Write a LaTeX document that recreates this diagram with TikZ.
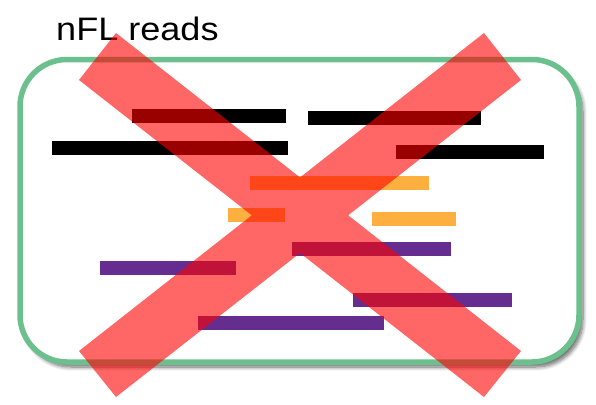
\documentclass[tikz,border=0pt]{standalone}
\usepackage{fontspec}
\setmainfont{Liberation Sans}
\usetikzlibrary{shadows.blur}
\definecolor{boxgreen}{RGB}{107,192,142}
\definecolor{readorange}{RGB}{253,176,64}
\definecolor{readpurple}{RGB}{102,45,145}
\tikzset{
  readbar/.style={line width=13.5pt},
  blackread/.style={readbar, draw=black},
  orangeread/.style={readbar, draw=readorange},
  purpleread/.style={readbar, draw=readpurple},
}
\begin{document}
\begin{tikzpicture}[x=1pt,y=-1pt]
\useasboundingbox (0,0) rectangle (596,404);
% box
\path[draw=boxgreen, line width=5.5pt, fill=white, rounded corners=47pt,
  blur shadow={shadow xshift=4pt, shadow yshift=-5pt, shadow blur steps=8, shadow opacity=60, shadow blur radius=4pt}]
  (20,59.5) rectangle (579,362);
\node[anchor=base west, inner sep=0pt, font=\fontsize{32.5}{36}\selectfont] (title) at (56,40.7) {\scalebox{1.11}[1]{nFL reads}};
% reads
\coordinate (b1a) at (132,116); \coordinate (b1b) at (286,116);
\coordinate (b2a) at (308,118); \coordinate (b2b) at (481,118);
\coordinate (b3a) at (52,148);  \coordinate (b3b) at (288,148);
\coordinate (b4a) at (396,152); \coordinate (b4b) at (544,152);
\coordinate (o1a) at (250,183); \coordinate (o1b) at (429,183);
\coordinate (o2a) at (228,215); \coordinate (o2b) at (285,215);
\coordinate (o3a) at (372,219); \coordinate (o3b) at (456,219);
\coordinate (p1a) at (292,249); \coordinate (p1b) at (451,249);
\coordinate (p2a) at (100,268); \coordinate (p2b) at (236,268);
\coordinate (p3a) at (353,300); \coordinate (p3b) at (512,300);
\coordinate (p4a) at (198,323); \coordinate (p4b) at (384,323);
\draw[blackread] (b1a) -- (b1b);
\draw[blackread] (b2a) -- (b2b);
\draw[blackread] (b3a) -- (b3b);
\draw[blackread] (b4a) -- (b4b);
\draw[orangeread] (o1a) -- (o1b);
\draw[orangeread] (o2a) -- (o2b);
\draw[orangeread] (o3a) -- (o3b);
\draw[purpleread] (p1a) -- (p1b);
\draw[purpleread] (p2a) -- (p2b);
\draw[purpleread] (p3a) -- (p3b);
\draw[purpleread] (p4a) -- (p4b);
% red cross
\fill[red, fill opacity=0.6, nonzero rule]
  (79,80) -- (116,33) -- (521,351) -- (484,397) -- cycle
  (116,397) -- (79,351) -- (484,33) -- (521,80) -- cycle;
\end{tikzpicture}
\end{document}
